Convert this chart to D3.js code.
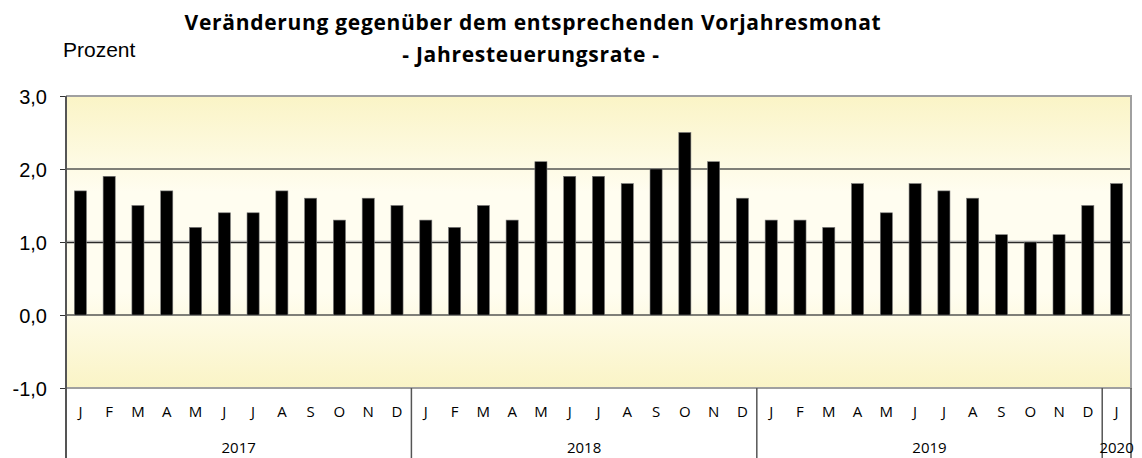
<!DOCTYPE html>
<html>
<head>
<meta charset="utf-8">
<script src="https://cdn.jsdelivr.net/npm/d3@7"></script>
<style>
  body { margin: 0; background: #fff; }
  svg { display: block; }
</style>
</head>
<body>
<svg></svg>
<script>
let months = ["J", "F", "M", "A", "M", "J", "J", "A", "S", "O", "N", "D"];
let years = ["2017", "2018", "2019", "2020"];
let monthsPerYear = [12, 12, 12, 1];

let rates2017 = [1.7, 1.9, 1.5, 1.7, 1.2, 1.4, 1.4, 1.7, 1.6, 1.3, 1.6, 1.5];
let rates2018 = [1.3, 1.2, 1.5, 1.3, 2.1, 1.9, 1.9, 1.8, 2.0, 2.5, 2.1, 1.6];
let rates2019 = [1.3, 1.3, 1.2, 1.8, 1.4, 1.8, 1.7, 1.6, 1.1, 1.0, 1.1, 1.5];
let rates2020 = [1.8];

let yTicks = [-1, 0, 1, 2, 3];

let width = 1142;
let height = 458;
let plotLeft = 66;
let plotRight = 1131;
let plotTop = 96;
let plotBottom = 388;

// flatten into one row per month
let values = [];
[rates2017, rates2018, rates2019, rates2020].forEach((arr, yi) => {
  arr.forEach((v, mi) => {
    values.push({ key: years[yi] + "-" + mi, month: months[mi], year: years[yi], value: v });
  });
});

let svg = d3.select("svg").attr("width", width).attr("height", height);

let xScale = d3.scaleBand()
  .domain(values.map((d) => d.key))
  .range([plotLeft, plotRight])
  .paddingInner(0.58)
  .paddingOuter(0.29);

let yScale = d3.scaleLinear().domain([-1, 3]).range([plotBottom, plotTop]);

// background gradient
let defs = svg.append("defs");
let grad = defs.append("linearGradient")
  .attr("id", "bg")
  .attr("x1", 0).attr("y1", 0).attr("x2", 0).attr("y2", 1);
grad.append("stop").attr("offset", "0%").attr("stop-color", "#faf4c6");
grad.append("stop").attr("offset", "33%").attr("stop-color", "#fffdf0");
grad.append("stop").attr("offset", "67%").attr("stop-color", "#fffdf0");
grad.append("stop").attr("offset", "100%").attr("stop-color", "#faf4c6");

svg.append("rect")
  .attr("x", plotLeft).attr("y", plotTop)
  .attr("width", plotRight - plotLeft).attr("height", plotBottom - plotTop)
  .attr("fill", "url(#bg)");

// gridlines
svg.selectAll(".grid")
  .data([0, 2])
  .enter()
  .append("line")
  .attr("x1", plotLeft).attr("x2", plotRight)
  .attr("y1", (d) => yScale(d)).attr("y2", (d) => yScale(d))
  .attr("stroke", "#7f7f78")
  .attr("stroke-width", 2);

svg.append("line")
  .attr("x1", plotLeft).attr("x2", plotRight)
  .attr("y1", yScale(1) - 1).attr("y2", yScale(1) - 1)
  .attr("stroke", "#c8c8c8").attr("stroke-width", 1);
svg.append("line")
  .attr("x1", plotLeft).attr("x2", plotRight)
  .attr("y1", yScale(1) + 0.5).attr("y2", yScale(1) + 0.5)
  .attr("stroke", "#2a2a2a").attr("stroke-width", 1.5);

// frame top / right / bottom
svg.append("path")
  .attr("d", "M" + plotLeft + "," + plotTop + "H" + plotRight + "V" + plotBottom + "H" + plotLeft)
  .attr("fill", "none")
  .attr("stroke", "#a0a0a0")
  .attr("stroke-width", 2);

// bars
svg.selectAll(".bar")
  .data(values)
  .enter()
  .append("rect")
  .attr("class", "bar")
  .attr("x", (d) => xScale(d.key))
  .attr("width", xScale.bandwidth())
  .attr("y", (d) => yScale(Math.max(0, d.value)))
  .attr("height", (d) => Math.abs(yScale(d.value) - yScale(0)))
  .attr("fill", "#000")
  .attr("stroke", "#777")
  .attr("stroke-width", 0.6);

// y axis
let yAxis = d3.axisLeft(yScale)
  .tickValues(yTicks)
  .tickSize(6)
  .tickFormat((d) => d3.format(".1f")(d).replace(".", ",").replace("−", "-"));

let gy = svg.append("g")
  .attr("transform", "translate(" + plotLeft + ",0)")
  .call(yAxis);
gy.select(".domain").remove();
gy.selectAll(".tick line").attr("stroke", "#333");
gy.selectAll("text")
  .attr("x", -19)
  .attr("dy", "0.35em")
  .attr("fill", "#000")
  .style("font-family", "'Liberation Sans', Arial, sans-serif")
  .style("font-size", "20px");

svg.append("line")
  .attr("x1", plotLeft).attr("x2", plotLeft)
  .attr("y1", plotTop).attr("y2", height)
  .attr("stroke", "#555").attr("stroke-width", 2);

// x axis: month letters
let xAxis = d3.axisBottom(xScale)
  .tickSize(0)
  .tickFormat((k) => values.find((d) => d.key === k).month);

let gx = svg.append("g")
  .attr("transform", "translate(0," + plotBottom + ")")
  .call(xAxis);
gx.select(".domain").remove();
gx.selectAll("text")
  .attr("y", 24)
  .attr("dy", "0.35em")
  .attr("fill", "#000")
  .style("font-family", "'Open Sans', sans-serif")
  .style("font-size", "15px");

// year groups
let step = xScale.step();
let half = step * xScale.paddingInner() / 2;
let yearGroups = [];
let idx = 0;
years.forEach((y, i) => {
  let start = idx;
  idx += monthsPerYear[i];
  yearGroups.push({
    year: y,
    x1: i === 0 ? plotLeft : xScale(values[start].key) - half,
    x2: i === years.length - 1 ? plotRight : xScale(values[idx - 1].key) + xScale.bandwidth() + half
  });
});

svg.selectAll(".sep")
  .data(yearGroups.slice(0, -1))
  .enter()
  .append("line")
  .attr("x1", (d) => d.x2).attr("x2", (d) => d.x2)
  .attr("y1", plotBottom).attr("y2", height)
  .attr("stroke", "#555").attr("stroke-width", 1.5);

svg.append("line")
  .attr("x1", plotRight).attr("x2", plotRight)
  .attr("y1", plotBottom).attr("y2", height)
  .attr("stroke", "#555").attr("stroke-width", 1.5);

svg.selectAll(".year")
  .data(yearGroups)
  .enter()
  .append("text")
  .attr("x", (d) => (d.x1 + d.x2) / 2)
  .attr("y", 448)
  .attr("dy", "0.35em")
  .attr("text-anchor", "middle")
  .style("font-family", "'Open Sans', sans-serif")
  .style("font-size", "15px")
  .text((d) => d.year);

// titles
svg.append("text")
  .attr("x", 533).attr("y", 30)
  .attr("text-anchor", "middle")
  .style("font-family", "'Open Sans', sans-serif")
  .style("font-weight", "bold")
  .style("font-size", "21px")
  .style("letter-spacing", "0.7px")
  .text("Veränderung gegenüber dem entsprechenden Vorjahresmonat");

svg.append("text")
  .attr("x", 531).attr("y", 62)
  .attr("text-anchor", "middle")
  .style("font-family", "'Open Sans', sans-serif")
  .style("font-weight", "bold")
  .style("font-size", "21px")
  .style("letter-spacing", "0.7px")
  .text("- Jahresteuerungsrate -");

svg.append("text")
  .attr("x", 63).attr("y", 57)
  .style("font-family", "'Liberation Sans', Arial, sans-serif")
  .style("font-size", "21px")
  .text("Prozent");
</script>
</body>
</html>
